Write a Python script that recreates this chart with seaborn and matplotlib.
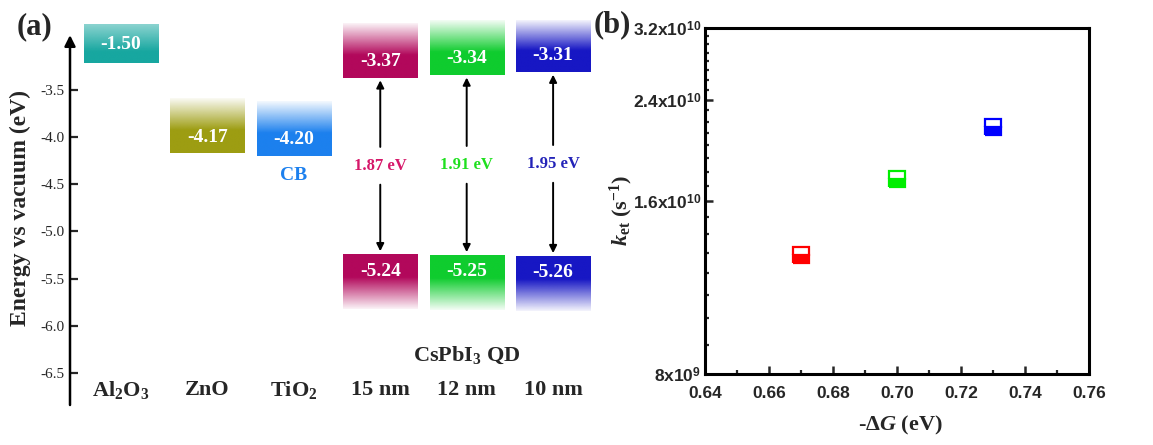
import numpy as np
import pandas as pd
import matplotlib
matplotlib.use("Agg")
import matplotlib.pyplot as plt
from matplotlib.colors import to_rgb
from matplotlib.ticker import FixedLocator, FuncFormatter, NullFormatter
import seaborn as sns

# ---------------- data ----------------
materials = ["Al$_\\mathbf{2}$O$_\\mathbf{3}$", "ZnO", "TiO$_\\mathbf{2}$", "15 nm", "12 nm", "10 nm"]
cb_values = [-1.50, -4.17, -4.20, -3.37, -3.34, -3.31]
vb_values = [np.nan, np.nan, np.nan, -5.24, -5.25, -5.26]
gap_values = [np.nan, np.nan, np.nan, 1.87, 1.91, 1.95]
box_colors = ["#17A7A0", "#9D9D12", "#1C80EE", "#B2085B", "#0FCC2E", "#1717C4"]
gap_text_colors = [None, None, None, "#D6186A", "#1EE01E", "#2323B8"]
energy_ticks = [-3.5, -4.0, -4.5, -5.0, -5.5, -6.0, -6.5]

qd_sizes = ["15 nm", "12 nm", "10 nm"]
delta_g = [0.67, 0.70, 0.73]
k_et = [1.29e10, 1.75e10, 2.15e10]
marker_colors = ["#FF0000", "#00EE00", "#0000FF"]
k_ticks = [8e9, 1.6e10, 2.4e10, 3.2e10]

# ---------------- style ----------------
sns.set_style("white")
plt.rcParams.update({
    "font.family": ["Liberation Serif", "DejaVu Serif"],
    "mathtext.fontset": "custom",
    "mathtext.rm": "Liberation Serif:bold",
    "mathtext.bf": "Liberation Serif:bold",
    "mathtext.it": "Liberation Serif:italic:bold",
    "mathtext.sf": "Liberation Sans:bold",
})

fig = plt.figure(figsize=(11.53, 4.45), dpi=100)
W, H = 1153, 445
axA = fig.add_axes([70 / W, 1 - 405 / H, (592 - 70) / W, (405 - 20) / H])
axB = fig.add_axes([705 / W, 1 - 374 / H, (1089 - 705) / W, (374 - 28) / H])

# ---------------- panel (a) ----------------
ylo, yhi = -6.84, -2.76
xlo, xhi = -0.59, 5.45
half_w = 0.43
box_h = 0.58


def grad_box(ax, xc, y0, y1, color, mode):
    n = 120
    t = np.linspace(0, 1, n)  # bottom -> top
    if mode == "up":  # solid bottom, fades upward
        a = np.where(t < 0.42, 1.0, 1.0 - (t - 0.42) / 0.58 * 0.95)
    elif mode == "down":  # solid top, fades downward
        tt = 1 - t
        a = np.where(tt < 0.42, 1.0, 1.0 - (tt - 0.42) / 0.58 * 0.95)
    else:
        a = np.where(t < 0.3, 1.0, 1.0 - (t - 0.3) / 0.7 * 0.5)
    rgba = np.zeros((n, 1, 4))
    rgba[:, 0, :3] = to_rgb(color)
    rgba[:, 0, 3] = np.clip(a, 0.03, 1)
    ax.imshow(rgba, extent=[xc - half_w, xc + half_w, y0, y1], origin="lower",
              aspect="auto", interpolation="bilinear", zorder=2)


bold = dict(fontweight="bold")
for i, (name, cb, vb, gap, col) in enumerate(zip(materials, cb_values, vb_values, gap_values, box_colors)):
    if cb > yhi:  # off-scale level: drawn in a band at top of the axis
        y0, y1 = yhi - 0.46, yhi - 0.05
        grad_box(axA, i, y0, y1, col, "solid")
        axA.text(i, (y0 + y1) / 2, f"{cb:.2f}", color="white", fontsize=14, ha="center", va="center", zorder=3, **bold)
    else:
        y0, y1 = cb, min(cb + box_h, yhi)
        grad_box(axA, i, y0, y1, col, "up")
        axA.text(i, cb + 0.17, f"{cb:.2f}", color="white", fontsize=14, ha="center", va="center", zorder=3, **bold)
    if not np.isnan(vb):
        grad_box(axA, i, vb - box_h, vb, col, "down")
        axA.text(i, vb - 0.18, f"{vb:.2f}", color="white", fontsize=14, ha="center", va="center", zorder=3, **bold)
        mid = (cb + vb) / 2
        axA.text(i, mid, f"{gap:.2f} eV", color=gap_text_colors[i], fontsize=12, ha="center", va="center", **bold)
        ap = dict(arrowstyle="-|>", color="black", lw=1.4, mutation_scale=11, shrinkA=0, shrinkB=2)
        axA.annotate("", xy=(i, cb), xytext=(i, mid + 0.2), arrowprops=ap)
        axA.annotate("", xy=(i, vb), xytext=(i, mid - 0.2), arrowprops=ap)
    axA.text(i, 0.039, name, transform=axA.get_xaxis_transform(), fontsize=16,
             ha="center", va="center", **bold)

# CB label under TiO2
axA.text(2, cb_values[2] - 0.21, "CB", color="#1C80EE", fontsize=14, ha="center", va="center", **bold)
axA.text(4, 0.13, "CsPbI$_\\mathbf{3}$ QD", transform=axA.get_xaxis_transform(), fontsize=16,
         ha="center", va="center", **bold)

axA.set_xlim(xlo, xhi)
axA.set_ylim(ylo, yhi)
for s in ["top", "right", "bottom", "left"]:
    axA.spines[s].set_visible(False)
axA.set_xticks([])
axA.set_yticks(energy_ticks)
axA.set_yticklabels([f"{v:.1f}" for v in energy_ticks])
axA.tick_params(axis="y", direction="in", length=6, width=1.6, labelsize=11, pad=4, left=True)
axA.annotate("", xy=(xlo, -2.92), xytext=(xlo, ylo), xycoords="data",
             arrowprops=dict(arrowstyle="-|>", color="black", lw=1.8, mutation_scale=16, shrinkA=0, shrinkB=0),
             annotation_clip=False)
fig.text(20 / W, 1 - 208 / H, "Energy vs vacuum (eV)", rotation=90, fontsize=17,
         ha="center", va="center", **bold)
fig.text(35 / W, 1 - 27 / H, "(a)", fontsize=22, ha="center", va="center", **bold)

# ---------------- panel (b) ----------------
df = pd.DataFrame({"dG": delta_g, "ket": k_et, "size": qd_sizes})
axB.set_yscale("log")
sns.lineplot(data=df, x="dG", y="ket", hue="size", palette=marker_colors, hue_order=qd_sizes,
             marker="s", linestyle="", markersize=11.5, fillstyle="bottom", errorbar=None,
             legend=False, ax=axB)
for ln in axB.lines:
    ln.set_markeredgecolor(ln.get_color())
    ln.set_markerfacecolor(ln.get_color())
    ln.set_markeredgewidth(1.6)
    ln.set_markerfacecoloralt("white")

axB.set_xlim(0.64, 0.76)
axB.set_ylim(k_ticks[0], k_ticks[-1])
axB.xaxis.set_major_locator(FixedLocator(np.round(np.arange(0.64, 0.7601, 0.02), 2)))
axB.xaxis.set_minor_locator(FixedLocator(np.round(np.arange(0.65, 0.76, 0.02), 2)))
axB.xaxis.set_major_formatter(FuncFormatter(lambda v, p: f"{v:.2f}"))
axB.yaxis.set_major_locator(FixedLocator(k_ticks))
axB.yaxis.set_minor_locator(FixedLocator([v for v in np.arange(9e9, 3.2e10, 1e9) if v not in k_ticks]))
axB.yaxis.set_minor_formatter(NullFormatter())


def kfmt(v, pos):
    e = int(np.floor(np.log10(v) + 1e-9))
    m = v / 10 ** e
    return f"{m:g}x10$^{{\\mathsf{{{e}}}}}$"


axB.yaxis.set_major_formatter(FuncFormatter(kfmt))
axB.tick_params(which="major", direction="in", length=6, width=1.8, left=True, bottom=True,
                top=False, right=False, pad=3)
axB.tick_params(axis="x", which="major", pad=9)
axB.tick_params(which="minor", direction="in", length=3, width=1.6, left=True, bottom=True,
                top=False, right=False)
for lab in axB.get_xticklabels() + axB.get_yticklabels():
    lab.set_fontfamily(["Liberation Sans", "DejaVu Sans"])
    lab.set_fontweight("bold")
    lab.set_fontsize(12.5)
for s in axB.spines.values():
    s.set_visible(True)
    s.set_linewidth(2.2)
    s.set_color("black")
axB.set_xlabel("")
axB.set_ylabel("")
fig.text(900 / W, 1 - 425 / H, "-Δ$\\mathit{G}$ (eV)", fontsize=16, ha="center", va="center", **bold)
fig.text(621 / W, 1 - 210 / H, "$\\mathit{k}_{\\mathbf{et}}$ (s$^{\\mathbf{-1}}$)", rotation=90,
         fontsize=16, ha="center", va="center", **bold)
fig.text(612 / W, 1 - 25 / H, "(b)", fontsize=22, ha="center", va="center", **bold)

fig.savefig("out.png", dpi=100, facecolor="white")
